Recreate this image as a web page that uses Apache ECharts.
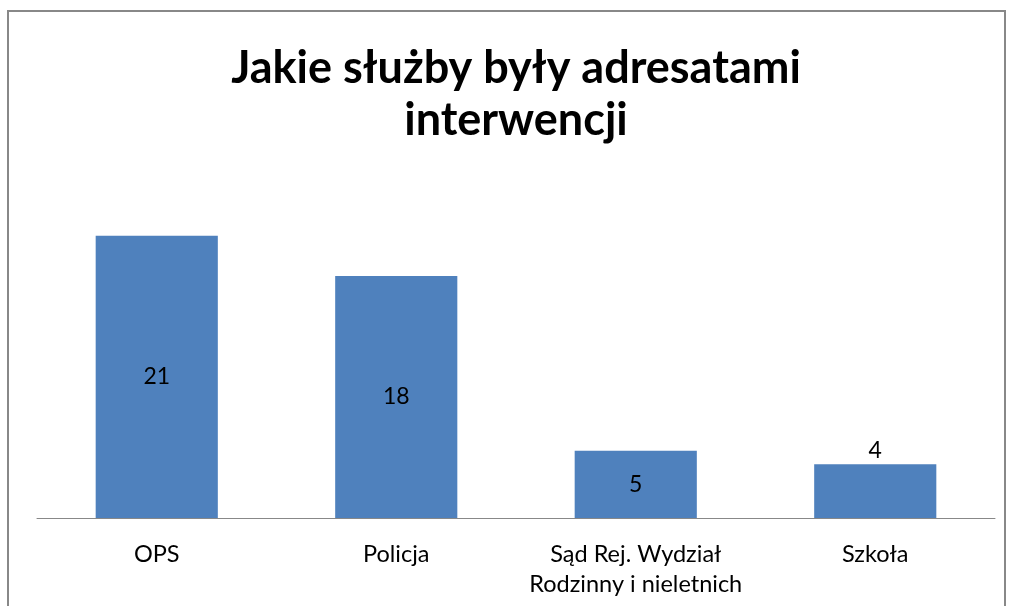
<!DOCTYPE html>
<html><head><meta charset="utf-8">
<script src="https://cdn.jsdelivr.net/npm/echarts@6/dist/echarts.min.js"></script>
<style>html,body{margin:0;padding:0;background:#fff}#c{width:1011px;height:606px}</style>
</head><body><div id="c"></div>
<script>
const categories = ['OPS', 'Policja', 'Sąd Rej. Wydział\nRodzinny i nieletnich', 'Szkoła'];
const values = [21, 18, 5, 4];
const labelPositions = ['inside', 'inside', 'inside', 'top'];
const titleText = 'Jakie służby były adresatami\ninterwencji';

const chart = echarts.init(document.getElementById('c'));
const font = 'Lato, "Open Sans", sans-serif';
chart.setOption({
  animation: false,
  backgroundColor: '#fff',
  graphic: [{
    type: 'rect', shape: { x: 8, y: 11, width: 997, height: 620 },
    style: { fill: 'none', stroke: '#888', lineWidth: 2 }, silent: true
  }, {
    type: 'text', x: 516, y: 42, silent: true,
    style: {
      text: titleText, align: 'center', verticalAlign: 'top',
      fontFamily: font, fontSize: 45, fontWeight: 'bold', fill: '#000', lineHeight: 52
    }
  }],
  grid: { left: 37, right: 16, top: 182, bottom: 88 },
  xAxis: {
    type: 'category', data: categories,
    axisTick: { show: false },
    axisLine: { lineStyle: { color: '#888', width: 1 } },
    axisLabel: { fontFamily: font, fontSize: 23.5, color: '#000', margin: 21, lineHeight: 30, interval: 0 }
  },
  yAxis: { type: 'value', min: 0, max: 25, show: false, splitLine: { show: false } },
  series: [{
    type: 'bar', barWidth: '51%',
    itemStyle: { color: '#4F81BD' },
    data: values.map((v, i) => ({
      value: v,
      label: { show: true, position: labelPositions[i], fontFamily: font, fontSize: 23, color: '#000', distance: 2 }
    }))
  }]
});
</script></body></html>
